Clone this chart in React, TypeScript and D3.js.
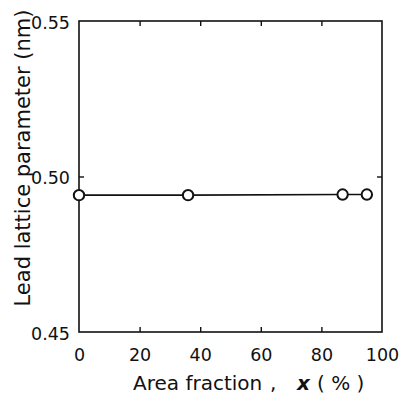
import { useEffect, useRef } from 'react'
import * as d3 from 'd3'

const areaFraction = [0, 36, 87, 95]
const latticeParam = [0.494, 0.494, 0.4942, 0.4942]
const xTicks = [0, 20, 40, 60, 80, 100]
const yTicks = [0.45, 0.5, 0.55]

const W = 402
const H = 396
const FONT = '"DejaVu Sans", sans-serif'

export default function App() {
  const svgRef = useRef<SVGSVGElement>(null)

  useEffect(() => {
    if (!svgRef.current) return
    const margin = { top: 21, right: 20, bottom: 64, left: 79 }
    const innerW = W - margin.left - margin.right
    const innerH = H - margin.top - margin.bottom

    const svg = d3.select(svgRef.current)
    svg.selectAll('*').remove()
    svg.attr('width', W).attr('height', H)

    const g = svg.append('g').attr('transform', `translate(${margin.left},${margin.top})`)

    const x = d3.scaleLinear().domain([0, 100]).range([0, innerW])
    const y = d3.scaleLinear().domain([0.45, 0.55]).range([innerH, 0])

    // frame
    g.append('rect')
      .attr('width', innerW).attr('height', innerH)
      .attr('fill', 'none').attr('stroke', '#111').attr('stroke-width', 1.6)

    const styleAxis = (ax: d3.Selection<SVGGElement, unknown, null, undefined>) => {
      ax.select('.domain').remove()
      ax.selectAll('line').attr('stroke', '#111').attr('stroke-width', 1.4)
      ax.selectAll('text').attr('fill', '#111').attr('font-family', FONT).attr('font-size', '17.5px')
    }

    // bottom axis, inward ticks
    g.append('g')
      .attr('transform', `translate(0,${innerH})`)
      .call(d3.axisBottom(x).tickValues(xTicks).tickSizeInner(-5).tickSizeOuter(0).tickPadding(17))
      .call(styleAxis)
      .call(ax => ax.selectAll('.tick').filter((d: any) => d === 0 || d === 100).select('line').remove())

    // top ticks
    g.append('g')
      .call(d3.axisTop(x).tickValues(xTicks.slice(1, -1)).tickSizeInner(-5).tickSizeOuter(0).tickFormat(() => ''))
      .call(styleAxis)

    // left axis
    g.append('g')
      .call(d3.axisLeft(y).tickValues(yTicks).tickSizeInner(-5).tickSizeOuter(0).tickPadding(9).tickFormat(d3.format('.2f')))
      .call(styleAxis)
      .call(ax => ax.selectAll('.tick').filter((d: any) => d !== 0.5).select('line').remove())
      .call(ax => ax.selectAll('.tick text').attr('dy', '0.42em'))

    // right ticks
    g.append('g')
      .attr('transform', `translate(${innerW},0)`)
      .call(d3.axisRight(y).tickValues([0.5]).tickSizeInner(-5).tickSizeOuter(0).tickFormat(() => ''))
      .call(styleAxis)

    const pts = areaFraction.map((a, i) => ({ a, v: latticeParam[i] }))
    const line = d3.line<{ a: number; v: number }>().x(d => x(d.a)).y(d => y(d.v))

    g.append('path').datum(pts)
      .attr('fill', 'none').attr('stroke', '#111').attr('stroke-width', 1.6)
      .attr('d', line)

    g.selectAll('circle.pt').data(pts).enter().append('circle')
      .attr('cx', d => x(d.a)).attr('cy', d => y(d.v)).attr('r', 5.2)
      .attr('fill', '#fff').attr('stroke', '#111').attr('stroke-width', 2)

    // x axis title, pieces placed like the original lettering
    const titleY = 390
    const addText = (tx: number, s: string) =>
      svg.append('text')
        .attr('x', tx).attr('y', titleY)
        .attr('font-family', FONT).attr('font-size', '20px').attr('fill', '#111')
        .text(s)
    addText(133, 'Area fraction')
    addText(270, ',')
    addText(297, 'x').attr('font-style', 'italic').attr('font-weight', 'bold')
    addText(317, '( % )')

    svg.append('text')
      .attr('transform', `translate(30,158) rotate(-90)`)
      .attr('text-anchor', 'middle')
      .attr('font-family', FONT).attr('font-size', '21px').attr('fill', '#111')
      .text('Lead lattice parameter (nm)')
  }, [])

  return (
    <div style={{ position: 'absolute', left: 0, top: 0, background: '#fff' }}>
      <svg ref={svgRef} style={{ display: 'block' }} />
    </div>
  )
}
